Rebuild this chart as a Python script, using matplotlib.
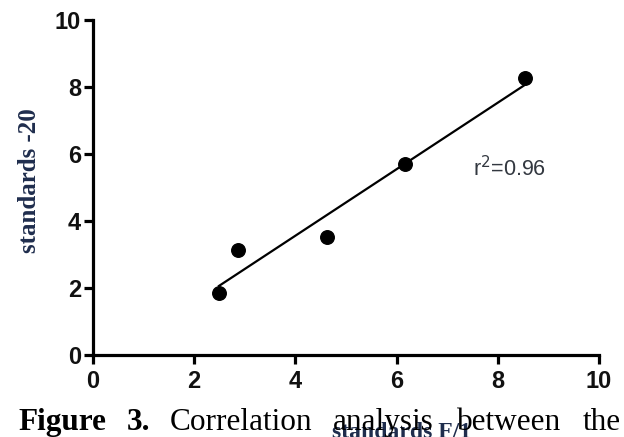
import numpy as np
import matplotlib
matplotlib.use("Agg")
import matplotlib.pyplot as plt

# Data
x_std = [2.49, 2.87, 4.62, 6.17, 8.54]
y_std = [1.85, 3.13, 3.52, 5.70, 8.27]
ticks = [0, 2, 4, 6, 8, 10]
r2_label = "r$^2$=0.96"

caption_words = ["Figure", "3.", "Correlation", "analysis", "between", "the"]
caption_bold = [True, True, False, False, False, False]
caption_px = [18, 127, 170, 333, 457, 583]

fig = plt.figure(figsize=(6.24, 4.37), dpi=100)
ax = fig.add_axes([0.149, 0.1876, 0.811, 0.7664])

# Scatter and linear fit
ax.scatter(x_std, y_std, s=95, color="black", zorder=3, clip_on=False)
slope, intercept = np.polyfit(x_std, y_std, 1)
xs = np.array([min(x_std), max(x_std)])
ax.plot(xs, intercept + slope * xs, color="black", lw=1.6, zorder=2)

ax.set_xlim(0, 10)
ax.set_ylim(0, 10)
ax.set_xticks(ticks)
ax.set_yticks(ticks)
for s in ["top", "right"]:
    ax.spines[s].set_visible(False)
for s in ["left", "bottom"]:
    ax.spines[s].set_linewidth(2.3)
ax.tick_params(width=2.3, length=6.5, direction="out", pad=2, colors="black")
ax.tick_params(axis="x", pad=4)
for lab in ax.get_xticklabels() + ax.get_yticklabels():
    lab.set_fontfamily("Liberation Sans")
    lab.set_fontweight("bold")
    lab.set_fontsize(17)
    lab.set_color("#111111")

ax.text(473 / 624, 1 - 176 / 437, r2_label, transform=fig.transFigure,
        fontsize=15.5, family="Liberation Sans", color="#333840",
        ha="left", va="baseline")

# Axis titles
fig.text(30 / 624, 1 - 181 / 437, "standards -20", rotation=90,
         ha="center", va="center", fontsize=18, fontweight="bold",
         family="Liberation Serif", color="#1f2d4d")
fig.text(402 / 624, 1 - 422 / 437, "standards F/1", ha="center", va="top",
         fontsize=17, fontweight="bold", family="Liberation Serif",
         color="#1f2d4d", zorder=1)

# Caption line under the plot
for word, bold, px in zip(caption_words, caption_bold, caption_px):
    fig.text(px / 624, 1 - 430 / 437, word, ha="left", va="baseline",
             fontsize=22.5, family="Liberation Serif",
             fontweight="bold" if bold else "normal", color="black", zorder=5)

fig.savefig("out.png", dpi=100)
